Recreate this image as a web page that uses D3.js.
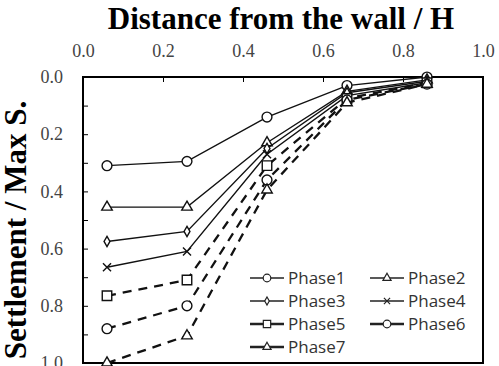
<!DOCTYPE html>
<html>
<head>
<meta charset="utf-8">
<script src="https://cdn.jsdelivr.net/npm/d3@7"></script>
<style>
  body { margin: 0; background: #fff; }
  svg { display: block; }
</style>
</head>
<body>
<svg width="499" height="366"></svg>
<script>
var distance = [0.06, 0.26, 0.46, 0.66, 0.86];
var phaseNames = ["Phase1", "Phase2", "Phase3", "Phase4", "Phase5", "Phase6", "Phase7"];
var phase1 = [0.31, 0.295, 0.14, 0.03, 0.0];
var phase2 = [0.455, 0.455, 0.23, 0.05, 0.01];
var phase3 = [0.575, 0.54, 0.25, 0.055, 0.015];
var phase4 = [0.665, 0.61, 0.27, 0.065, 0.02];
var phase5 = [0.765, 0.71, 0.31, 0.075, 0.02];
var phase6 = [0.88, 0.80, 0.36, 0.08, 0.025];
var phase7 = [1.0, 0.905, 0.395, 0.09, 0.025];
var xTicks = [0, 0.2, 0.4, 0.6, 0.8, 1.0];
var yTicks = [0, 0.2, 0.4, 0.6, 0.8, 1.0];

var phases = [phase1, phase2, phase3, phase4, phase5, phase6, phase7];
var markers = ["circle", "triangle", "diamond", "x", "square", "circle", "triangle"];
var dashed = [false, false, false, false, true, true, true];

var svg = d3.select("svg");
// plot frame (note: "top" is reserved on window, so use plot* names)
var plotL = 83, plotR = 483, plotT = 77, plotB = 363;

var x = d3.scaleLinear().domain([0, 1]).range([plotL, plotR]);
var y = d3.scaleLinear().domain([0, 1]).range([plotT, plotB]);

var symbolFor = function (m, big) {
    var k = big ? 1 : 0.6;
    if (m == "circle") return d3.symbol().type(d3.symbolCircle).size(76 * k)();
    if (m == "triangle") return d3.symbol().type(d3.symbolTriangle).size(48 * k)();
    if (m == "diamond") return d3.symbol().type(d3.symbolDiamond).size(30 * k)();
    if (m == "x") return d3.symbol().type(d3.symbolX).size(44 * k)();
    return d3.symbol().type(d3.symbolSquare).size(90 * k)();
};

var serifLabels = function (g) {
    g.select(".domain").remove();
    g.selectAll(".tick text")
        .style("font-family", "'Liberation Serif', serif")
        .style("font-size", "18px")
        .style("fill", "#444");
};

// titles
svg.append("text")
    .attr("x", 281).attr("y", 29)
    .attr("text-anchor", "middle")
    .attr("font-family", "'Liberation Serif', serif")
    .attr("font-weight", "bold")
    .attr("font-size", 31)
    .text("Distance from the wall / H");

svg.append("text")
    .attr("transform", "translate(26,230) rotate(-90)")
    .attr("text-anchor", "middle")
    .attr("font-family", "'Liberation Serif', serif")
    .attr("font-weight", "bold")
    .attr("font-size", 31)
    .text("Settlement / Max S.");

// axes: labels outside, ticks inward
svg.append("g")
    .attr("transform", "translate(0," + plotT + ")")
    .call(d3.axisTop(x).tickValues(xTicks).tickFormat(d3.format(".1f")).tickSize(0))
    .call(serifLabels)
    .selectAll("text").attr("y", -26).attr("dy", "0.35em");
svg.append("g")
    .attr("transform", "translate(" + plotL + ",0)")
    .call(d3.axisLeft(y).tickValues(yTicks).tickFormat(d3.format(".1f")).tickSize(0).tickPadding(20))
    .call(serifLabels);

svg.append("g")
    .attr("transform", "translate(0," + plotT + ")")
    .call(d3.axisBottom(x).tickValues([0.2, 0.4, 0.6, 0.8]).tickSize(5).tickFormat(""))
    .call(function (g) { g.select(".domain").remove(); });
svg.append("g")
    .attr("transform", "translate(" + plotL + ",0)")
    .call(d3.axisRight(y).tickValues(d3.range(1, 10).map(function (d) { return d / 10; })).tickSize(5).tickFormat(""))
    .call(function (g) { g.select(".domain").remove(); });

svg.append("rect")
    .attr("x", plotL).attr("y", plotT)
    .attr("width", plotR - plotL).attr("height", plotB - plotT)
    .attr("fill", "none").attr("stroke", "#000").attr("stroke-width", 2);

// series
var line = d3.line()
    .x(function (d, i) { return x(distance[i]); })
    .y(function (d) { return y(d); });

phases.forEach(function (vals, p) {
    svg.append("path")
        .attr("d", line(vals))
        .attr("fill", "none")
        .attr("stroke", "#111")
        .attr("stroke-width", dashed[p] ? 2.3 : 1.4)
        .attr("stroke-dasharray", dashed[p] ? "9,7" : null);

    svg.selectAll(".m" + p)
        .data(vals)
        .enter().append("path")
        .attr("class", "m" + p)
        .attr("transform", function (d, i) { return "translate(" + x(distance[i]) + "," + y(d) + ")"; })
        .attr("d", symbolFor(markers[p], true))
        .attr("fill", "#fff")
        .attr("stroke", "#111")
        .attr("stroke-width", 1.4);
});

// legend
var legend = svg.append("g");
phaseNames.forEach(function (name, p) {
    var lx = p % 2 == 0 ? 250 : 370;
    var ly = 278 + Math.floor(p / 2) * 23;
    var g = legend.append("g").attr("transform", "translate(" + lx + "," + ly + ")");
    g.append("line")
        .attr("x1", 0).attr("x2", 34)
        .attr("stroke", "#222")
        .attr("stroke-width", dashed[p] ? 2.3 : 1.3);
    g.append("path")
        .attr("transform", "translate(17,0)")
        .attr("d", symbolFor(markers[p], false))
        .attr("fill", "#fff").attr("stroke", "#222").attr("stroke-width", 1.2);
    g.append("text")
        .attr("x", 38).attr("y", 6)
        .attr("font-family", "'Open Sans', sans-serif")
        .attr("font-size", 17)
        .attr("fill", "#333")
        .text(name);
});
</script>
</body>
</html>
